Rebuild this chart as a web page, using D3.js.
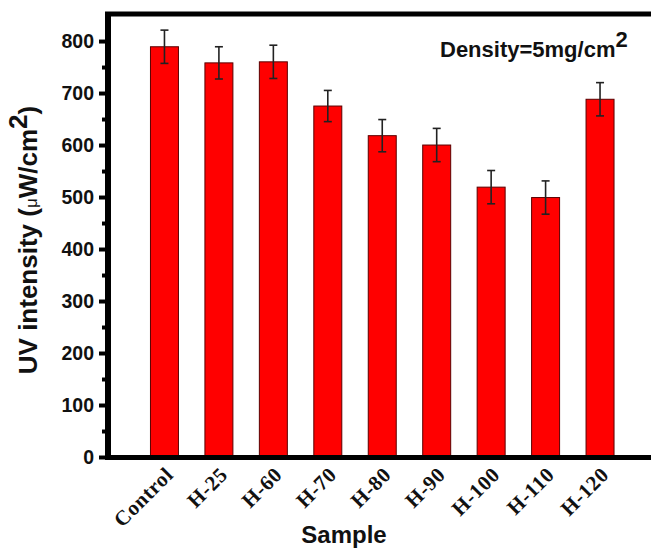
<!DOCTYPE html>
<html>
<head>
<meta charset="utf-8">
<script src="https://cdn.jsdelivr.net/npm/d3@7"></script>
<style>
  body { margin: 0; background: #fff; }
  svg { display: block; }
</style>
</head>
<body>
<svg id="chart" width="651" height="550"></svg>
<script>
var samples = ["Control", "H-25", "H-60", "H-70", "H-80", "H-90", "H-100", "H-110", "H-120"];
var intensity = [789, 758, 760, 675, 618, 600, 519, 499, 688];
var errors = [32, 31, 32, 30, 31, 32, 32, 32, 32];
var yTicks = [0, 100, 200, 300, 400, 500, 600, 700, 800];
var yMinorTicks = [50, 150, 250, 350, 450, 550, 650, 750];

var svg = d3.select("#chart");

// plot box (right edge falls just past the window, like the source)
var plotL = 108, plotR = 656.5, plotT = 14, plotB = 457;

var x = d3.scaleBand()
  .domain(samples)
  .range([plotL, plotR])
  .paddingInner(0.486)
  .paddingOuter(0.78);

var y = d3.scaleLinear()
  .domain([0, 852])
  .range([plotB, plotT]);

var rows = samples.map(function(s, i) {
  return { name: s, val: intensity[i], err: errors[i] };
});

// bars
svg.append("g").selectAll("rect")
  .data(rows)
  .enter()
  .append("rect")
  .attr("x", function(d) { return x(d.name); })
  .attr("y", function(d) { return y(d.val); })
  .attr("width", x.bandwidth())
  .attr("height", function(d) { return y(0) - y(d.val); })
  .attr("fill", "#ff0000")
  .attr("stroke", "#5a0000")
  .attr("stroke-width", 1);

// error bars
var eb = svg.append("g").attr("stroke", "#222").attr("stroke-width", 1.6);
rows.forEach(function(d) {
  var cx = x(d.name) + x.bandwidth() / 2;
  eb.append("line")
    .attr("x1", cx).attr("x2", cx)
    .attr("y1", y(d.val + d.err)).attr("y2", y(d.val - d.err));
  eb.append("line")
    .attr("x1", cx - 4).attr("x2", cx + 4)
    .attr("y1", y(d.val + d.err)).attr("y2", y(d.val + d.err));
  eb.append("line")
    .attr("x1", cx - 4).attr("x2", cx + 4)
    .attr("y1", y(d.val - d.err)).attr("y2", y(d.val - d.err));
});

// frame: top and bottom thick lines
svg.append("line")
  .attr("x1", plotL - 3).attr("x2", 660)
  .attr("y1", plotT).attr("y2", plotT)
  .attr("stroke", "#000").attr("stroke-width", 5);
svg.append("line")
  .attr("x1", plotL - 3).attr("x2", 660)
  .attr("y1", plotB + 0.5).attr("y2", plotB + 0.5)
  .attr("stroke", "#000").attr("stroke-width", 5);

// minor ticks
svg.append("g")
  .attr("transform", "translate(" + plotL + ",0)")
  .call(d3.axisLeft(y).tickValues(yMinorTicks).tickSize(6).tickFormat(""))
  .call(function(g) {
    g.select(".domain").remove();
    g.selectAll(".tick line").attr("stroke", "#000").attr("stroke-width", 4);
  });

// major ticks + labels
svg.append("g")
  .attr("transform", "translate(" + plotL + ",0)")
  .call(d3.axisLeft(y).tickValues(yTicks).tickSize(9).tickSizeOuter(0).tickPadding(5))
  .call(function(g) {
    g.select(".domain").attr("stroke", "#000").attr("stroke-width", 6)
      .attr("d", "M0," + (plotB + 3) + "V" + (plotT - 2));
    g.selectAll(".tick line").attr("stroke", "#000").attr("stroke-width", 4);
    g.selectAll(".tick text")
      .attr("font-family", "Liberation Sans, Arial, sans-serif")
      .attr("font-weight", "bold")
      .attr("font-size", 19.5)
      .attr("fill", "#111");
  });

// x category labels, rotated
svg.append("g").selectAll("text")
  .data(samples)
  .enter()
  .append("text")
  .attr("transform", function(d) {
    return "translate(" + (x(d) + x.bandwidth() / 2 + 10) + "," + 476 + ") rotate(-45)";
  })
  .attr("text-anchor", "end")
  .attr("font-family", "Liberation Serif, Times New Roman, serif")
  .attr("font-weight", "bold")
  .attr("font-size", 21)
  .attr("letter-spacing", 0.6)
  .attr("fill", "#111")
  .text(function(d) { return d; });

// axis titles
svg.append("text")
  .attr("x", 344)
  .attr("y", 543)
  .attr("text-anchor", "middle")
  .attr("font-family", "Liberation Sans, Arial, sans-serif")
  .attr("font-weight", "bold")
  .attr("font-size", 24)
  .attr("fill", "#111")
  .text("Sample");

var yt = svg.append("text")
  .attr("transform", "translate(37,240) rotate(-90)")
  .attr("text-anchor", "middle")
  .attr("font-family", "Liberation Sans, Arial, sans-serif")
  .attr("font-weight", "bold")
  .attr("font-size", 26)
  .attr("fill", "#111");
yt.append("tspan").text("UV intensity (");
yt.append("tspan").attr("font-size", 17).attr("font-weight", "normal").text("\u03bc");
yt.append("tspan").text("W/cm");
yt.append("tspan").attr("dy", -10).text("2");
yt.append("tspan").attr("dy", 10).text(")");

// annotation
var ann = svg.append("text")
  .attr("x", 440)
  .attr("y", 57)
  .attr("font-family", "Liberation Sans, Arial, sans-serif")
  .attr("font-weight", "bold")
  .attr("font-size", 22)
  .attr("fill", "#111");
ann.append("tspan").text("Density=5mg/cm");
ann.append("tspan").attr("dy", -10).text("2");
</script>
</body>
</html>
